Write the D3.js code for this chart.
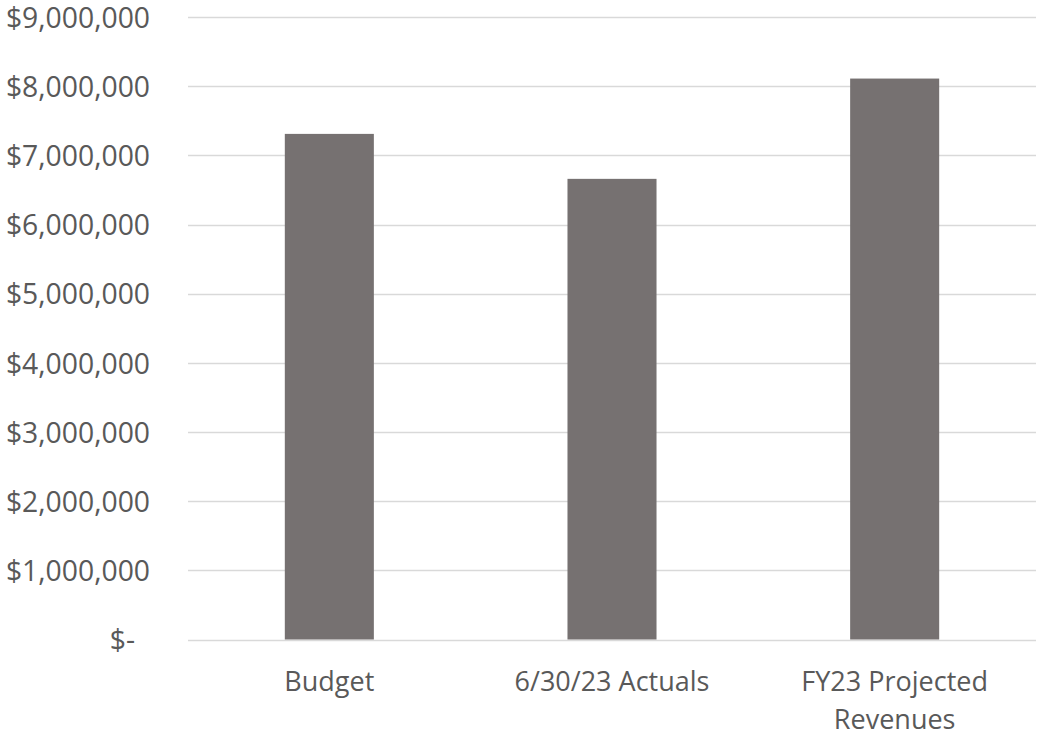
<!DOCTYPE html>
<html>
<head>
<meta charset="utf-8">
<script src="https://cdn.jsdelivr.net/npm/d3@7"></script>
<style>
  html, body { margin: 0; padding: 0; background: #fff; }
  svg { display: block; }
  text { font-family: "Open Sans", "Noto Sans", sans-serif; fill: #595959; }
</style>
</head>
<body>
<svg id="chart" width="1041" height="734"></svg>
<script>
const categories = [["Budget"], ["6/30/23 Actuals"], ["FY23 Projected", "Revenues"]];
const values = [7310000, 6660000, 8110000];
const yTicks = [0, 1000000, 2000000, 3000000, 4000000, 5000000, 6000000, 7000000, 8000000, 9000000];

const W = 1041, H = 734;
const m = { left: 188, right: 5, top: 17, bottom: 94.5 };
const svg = d3.select("#chart");

const x = d3.scaleBand()
  .domain(categories.map((d, i) => i))
  .range([m.left, W - m.right])
  .paddingInner(0.685).paddingOuter(0.3425);

const y = d3.scaleLinear().domain([0, 9000000]).range([H - m.bottom, m.top]);

const fmt = v => v === 0 ? "$-" : "$" + d3.format(",")(v);

// gridlines
svg.append("g")
  .selectAll("line").data(yTicks).join("line")
  .attr("x1", m.left).attr("x2", W - m.right)
  .attr("y1", d => Math.round(y(d)) + 0.5).attr("y2", d => Math.round(y(d)) + 0.5)
  .attr("stroke", "#d9d9d9").attr("stroke-width", 1.5);

// y axis labels
const yAxis = d3.axisLeft(y).tickValues(yTicks).tickFormat(fmt).tickSize(0).tickPadding(0);
const ya = svg.append("g").attr("transform", `translate(150,0)`).call(yAxis);
ya.select(".domain").remove();
ya.selectAll("text")
  .attr("font-size", 28.3)
  .attr("font-family", "'Open Sans', sans-serif")
  .attr("fill", "#595959")
  .attr("dy", "0.36em")
  .attr("dx", d => d === 0 ? -15 : 0);

// bars
svg.append("g")
  .selectAll("rect").data(values).join("rect")
  .attr("x", (d, i) => x(i))
  .attr("width", x.bandwidth())
  .attr("y", d => y(d))
  .attr("height", d => y(0) - y(d))
  .attr("fill", "#767171");

// x labels
const xl = svg.append("g");
categories.forEach((lines, i) => {
  lines.forEach((ln, j) => {
    xl.append("text")
      .attr("x", x(i) + x.bandwidth() / 2)
      .attr("y", 691 + j * 38)
      .attr("text-anchor", "middle")
      .attr("font-size", 27)
      .text(ln);
  });
});
</script>
</body>
</html>
